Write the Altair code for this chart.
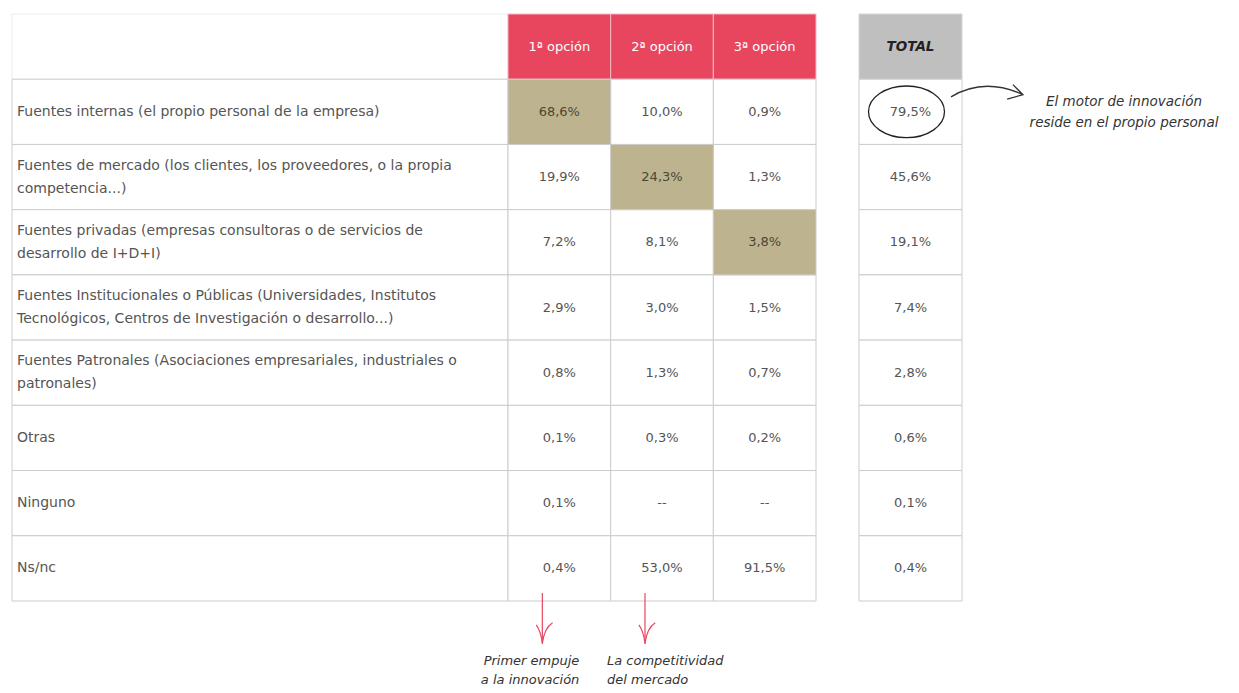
import altair as alt
import pandas as pd

# ---------------- data ----------------
row_labels = [
    "Fuentes internas (el propio personal de la empresa)",
    "Fuentes de mercado (los clientes, los proveedores, o la propia\ncompetencia...)",
    "Fuentes privadas (empresas consultoras o de servicios de\ndesarrollo de I+D+I)",
    "Fuentes Institucionales o Públicas (Universidades, Institutos\nTecnológicos, Centros de Investigación o desarrollo...)",
    "Fuentes Patronales (Asociaciones empresariales, industriales o\npatronales)",
    "Otras",
    "Ninguno",
    "Ns/nc",
]
option_cols = ["1ª opción", "2ª opción", "3ª opción"]
opt1_vals = ["68,6%", "19,9%", "7,2%", "2,9%", "0,8%", "0,1%", "0,1%", "0,4%"]
opt2_vals = ["10,0%", "24,3%", "8,1%", "3,0%", "1,3%", "0,3%", "--", "53,0%"]
opt3_vals = ["0,9%", "1,3%", "3,8%", "1,5%", "0,7%", "0,2%", "--", "91,5%"]
total_col = "TOTAL"
total_vals = ["79,5%", "45,6%", "19,1%", "7,4%", "2,8%", "0,6%", "0,1%", "0,4%"]
highlight_cells = [(0, "1ª opción"), (1, "2ª opción"), (2, "3ª opción")]
circled_cells = [(0, "TOTAL")]
side_note = "El motor de innovación\nreside en el propio personal"
side_note_row = 0
bottom_notes_right = [("1ª opción", "Primer empuje\na la innovación")]
bottom_notes_left = [("2ª opción", "La competitividad\ndel mercado")]

# ---------------- styles ----------------
FONT = "DejaVu Sans"
PINK = "#E8465F"
TAN = "#BDB48F"
GREY_HEAD = "#BFBFBF"
GRID = "#CCCCCC"
TXT = "#555555"
LH = 23

row_keys = [f"r{i}" for i in range(len(row_labels))]
row_domain = ["h"] + row_keys
yscale = alt.Scale(domain=row_domain, paddingInner=0, paddingOuter=0)
Y = alt.Y("row:N", scale=yscale, axis=None)
TABLE_H = 587
multi = alt.expr.indexof(alt.datum.label, "\n") >= 0

# ---------------- label column ----------------
lab_df = pd.DataFrame({
    "row": row_domain,
    "label": [""] + row_labels,
    "kind": ["header"] + ["body"] * len(row_labels),
    "col": "lab",
})
lab_x = alt.Scale(domain=["lab"], paddingInner=0, paddingOuter=0)
lab_base = alt.Chart(lab_df).encode(y=Y, x=alt.X("col:N", scale=lab_x, axis=None))
lab_rect_h = lab_base.transform_filter(alt.datum.kind == "header").mark_rect(
    fill="white", stroke="#EBEBEB", strokeWidth=1)
lab_rect_b = lab_base.transform_filter(alt.datum.kind == "body").mark_rect(
    fill="white", stroke=GRID, strokeWidth=1)
txt_kw = dict(align="left", baseline="middle", dx=5, font=FONT, fontSize=14,
              color=TXT, lineBreak="\n", lineHeight=LH)
lab_text1 = alt.Chart(lab_df).transform_filter(~multi).mark_text(**txt_kw).encode(
    y=Y, x=alt.X("col:N", scale=lab_x, axis=None, bandPosition=0), text="label:N")
lab_text2 = alt.Chart(lab_df).transform_filter(multi).mark_text(dy=-LH / 2, **txt_kw).encode(
    y=Y, x=alt.X("col:N", scale=lab_x, axis=None, bandPosition=0), text="label:N")
labels_chart = alt.layer(lab_rect_h, lab_rect_b, lab_text1, lab_text2).properties(
    width=496, height=TABLE_H)

# ---------------- option columns ----------------
recs = []
for c in option_cols:
    recs.append({"row": "h", "col": c, "value": c, "kind": "header"})
for vals, c in zip([opt1_vals, opt2_vals, opt3_vals], option_cols):
    for i, v in enumerate(vals):
        kind = "hl" if (i, c) in highlight_cells else "body"
        recs.append({"row": row_keys[i], "col": c, "value": v, "kind": kind})
opt_df = pd.DataFrame(recs)
opt_x = alt.Scale(domain=option_cols, paddingInner=0, paddingOuter=0)
opt_base = alt.Chart(opt_df).encode(y=Y, x=alt.X("col:N", scale=opt_x, axis=None))
opt_rect_h = opt_base.transform_filter(alt.datum.kind == "header").mark_rect(
    fill=PINK, stroke="#F4B8C2", strokeWidth=1)
opt_rect_b = opt_base.transform_filter(alt.datum.kind == "body").mark_rect(
    fill="white", stroke=GRID, strokeWidth=1)
opt_rect_hl = opt_base.transform_filter(alt.datum.kind == "hl").mark_rect(
    fill=TAN, stroke=GRID, strokeWidth=1)
opt_head = opt_base.transform_filter(alt.datum.kind == "header").mark_text(
    font=FONT, fontSize=13, color="white", baseline="middle").encode(text="value:N")
opt_body = opt_base.transform_filter(alt.datum.kind == "body").mark_text(
    font=FONT, fontSize=13, color=TXT, baseline="middle").encode(text="value:N")
opt_hl = opt_base.transform_filter(alt.datum.kind == "hl").mark_text(
    font=FONT, fontSize=13, color="#4A4636", baseline="middle").encode(text="value:N")

# bottom annotations under the option columns (drawn below the table)
arrow_df = pd.DataFrame({"col": [c for c, _ in bottom_notes_right + bottom_notes_left]})
bot_base = alt.Chart(arrow_df).encode(x=alt.X("col:N", scale=opt_x, axis=None))
shaft = bot_base.mark_rule(color=PINK, strokeWidth=1.2, xOffset=-17).encode(
    y=alt.value(579), y2=alt.value(630))
head = bot_base.mark_point(
    shape="M-0.6,-0.8 Q-0.15,-0.2 0,1 M1,-1 Q0.2,-0.5 0,1",
    size=420, filled=False, stroke=PINK, strokeWidth=1.2, opacity=1, xOffset=-17,
).encode(y=alt.value(619))
note_kw = dict(baseline="middle", font=FONT, fontStyle="italic", fontSize=13,
               color="#333333", lineBreak="\n", lineHeight=19)
note_r = alt.Chart(pd.DataFrame(bottom_notes_right, columns=["col", "txt"])).mark_text(
    align="right", dx=20, **note_kw,
).encode(x=alt.X("col:N", scale=opt_x, axis=None), y=alt.value(647), text="txt:N")
note_l = alt.Chart(pd.DataFrame(bottom_notes_left, columns=["col", "txt"])).mark_text(
    align="left", dx=-55, **note_kw,
).encode(x=alt.X("col:N", scale=opt_x, axis=None), y=alt.value(647), text="txt:N")

options_chart = alt.layer(
    opt_rect_h, opt_rect_b, opt_rect_hl, opt_head, opt_body, opt_hl,
    shaft, head, note_r, note_l,
).properties(width=308, height=TABLE_H)

# ---------------- gap ----------------
gap_chart = alt.Chart(pd.DataFrame({"row": ["h"]})).mark_rect(opacity=0).encode(
    y=Y).properties(width=43, height=TABLE_H)

# ---------------- total column ----------------
trecs = [{"row": "h", "col": total_col, "value": total_col, "kind": "header"}]
for i, v in enumerate(total_vals):
    trecs.append({"row": row_keys[i], "col": total_col, "value": v, "kind": "body"})
tot_df = pd.DataFrame(trecs)
tot_x = alt.Scale(domain=[total_col], paddingInner=0, paddingOuter=0)
tot_base = alt.Chart(tot_df).encode(y=Y, x=alt.X("col:N", scale=tot_x, axis=None))
tot_rect_h = tot_base.transform_filter(alt.datum.kind == "header").mark_rect(
    fill=GREY_HEAD, stroke="#D5D5D5", strokeWidth=1)
tot_rect_b = tot_base.transform_filter(alt.datum.kind == "body").mark_rect(
    fill="white", stroke=GRID, strokeWidth=1)
tot_head = tot_base.transform_filter(alt.datum.kind == "header").mark_text(
    font=FONT, fontSize=13.5, fontWeight="bold", fontStyle="italic", color="#222222",
    baseline="middle").encode(text="value:N")
tot_body = tot_base.transform_filter(alt.datum.kind == "body").mark_text(
    font=FONT, fontSize=13, color=TXT, baseline="middle").encode(text="value:N")
circ_df = pd.DataFrame({"row": [row_keys[i] for i, _ in circled_cells],
                        "col": [c for _, c in circled_cells]})
circle = alt.Chart(circ_df).mark_point(
    shape="M-1,0 A1,0.68 0 1,0 1,0 A1,0.68 0 1,0 -1,0",
    size=76 * 76, filled=False, stroke="#222222", strokeWidth=1.3, opacity=1, xOffset=-4,
).encode(y=Y, x=alt.X("col:N", scale=tot_x, axis=None))
total_chart = alt.layer(tot_rect_h, tot_rect_b, tot_head, tot_body, circle).properties(
    width=103, height=TABLE_H)

# ---------------- side annotation ----------------
side_df = pd.DataFrame({"row": [row_keys[side_note_row]], "txt": [side_note]})
side_base = alt.Chart(side_df).encode(y=Y)
side_arrow = side_base.mark_point(
    shape="M-1,0.14 Q-0.08,-0.42 1,0.08 M0.72,-0.2 L1,0.08 L0.56,0.2",
    size=72 * 72, filled=False, stroke="#333333", strokeWidth=1.3, opacity=1, yOffset=-20,
).encode(x=alt.value(25))
side_text = side_base.mark_text(
    align="center", baseline="middle", font=FONT, fontStyle="italic", fontSize=13.5,
    color="#333333", lineBreak="\n", lineHeight=21, yOffset=-9.5,
).encode(x=alt.value(162), text="txt:N")
side_chart = alt.layer(side_arrow, side_text).properties(width=262, height=TABLE_H)

# ---------------- assemble ----------------
chart = alt.hconcat(
    labels_chart, options_chart, gap_chart, total_chart, side_chart,
    spacing=0, bounds="flush",
).properties(
    padding={"left": 3, "top": 5, "right": 0, "bottom": 0}
).configure_view(stroke=None)

chart.save("out.html", embed_options={"renderer": "svg", "actions": False})
